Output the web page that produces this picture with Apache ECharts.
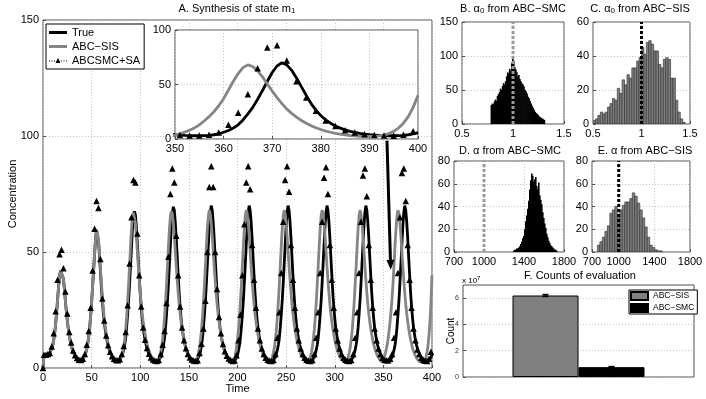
<!DOCTYPE html>
<html>
<head>
<meta charset="UTF-8">
<title></title>
<style>
	* { margin: 0; padding: 0; }
	html, body { width: 100%; height: 100%; overflow: hidden; background: #fff; }
	#chart { width: 706px; height: 399px; }
</style>
</head>
<body>
<div id="chart"></div>
<script src="https://cdn.jsdelivr.net/npm/echarts@6/dist/echarts.min.js"></script>
<script>
	// A. concentration of m1, one value per time unit, t = 0..400
	var trueConc = [
		0, 5.2, 5.5, 5.6, 5.7, 5.8, 6.0, 6.5, 7.2, 8.3, 9.8, 12, 15, 19, 24, 29.5, 35, 39.5, 42, 42.5,
		41.5, 38.5, 34, 29, 24.5, 20.5, 17, 14, 11.7, 9.8, 8.2, 7, 6, 5.2, 4.6, 4.1, 3.8, 3.6, 3.5, 3.5,
		3.6, 3.9, 4.4, 5.2, 6.5, 8.2, 10.5, 13.5, 17.5, 22.5, 28.5, 35, 42, 49, 55.5, 59.5, 59, 55, 49, 42,
		35, 29, 24, 20, 16.5, 13.7, 11.4, 9.5, 8, 6.8, 5.8, 5, 4.4, 3.9, 3.6, 3.4, 3.3, 3.3, 3.4, 3.7,
		4.2, 5, 6.2, 7.8, 10, 13, 17.5, 23, 29, 36, 44, 52, 60, 65.5, 67.5, 66, 61, 54, 46.5, 39,
		32, 26, 21.3, 17.4, 14.4, 12, 10, 8.4, 7, 6, 5.1, 4.4, 3.9, 3.6, 3.3, 3.1, 3.0, 3.0, 3.1, 3.4,
		3.9, 4.6, 6.2, 7.8, 10, 13, 17.5, 23, 29, 36.5, 44.5, 53, 61, 66.5, 69.5, 68, 63, 56, 48, 40,
		32.5, 26.5, 21.5, 17.5, 14.5, 12, 10, 8.4, 7, 6, 5.1, 4.4, 3.9, 3.6, 3.3, 3.1, 3.0, 3.0, 3.1, 3.4,
		3.9, 5.6, 7.4, 9.8, 13, 17.5, 23, 29, 36.5, 44.5, 53, 61, 67, 70, 68, 63, 56, 48, 40, 32.5,
		26.5, 21.5, 17.5, 14.5, 12, 10, 8.4, 7, 6, 5.1, 4.4, 3.9, 3.6, 3.3, 3.1, 3.0, 3.0, 3.1, 3.4, 3.9,
		5.6, 7.4, 9.8, 13, 17.5, 23, 29, 36.5, 44.5, 53, 61, 67, 70, 68, 63, 56, 48, 40, 32.5, 26.5,
		21.5, 17.5, 14.5, 12, 10, 8.4, 7, 6, 5.1, 4.4, 3.9, 3.6, 3.3, 3.1, 3.0, 3.0, 3.1, 3.4, 3.9, 4.6,
		6.2, 7.8, 10, 13, 17.5, 23, 29, 36.5, 44.5, 53, 61, 67, 70, 68, 63, 56, 48, 40, 32.5, 26.5,
		21.5, 17.5, 14.5, 12, 10, 8.4, 7, 6, 5.1, 4.4, 3.9, 3.6, 3.3, 3.1, 3.0, 3.0, 3.1, 3.4, 3.9, 4.6,
		6.2, 7.8, 10, 13, 17.5, 23, 29, 36.5, 44.5, 53, 61, 67, 70, 68, 63, 56, 48, 40, 32.5, 26.5,
		21.5, 17.5, 14.5, 12, 10, 8.4, 7, 6, 5.1, 4.4, 3.9, 3.6, 3.3, 3.1, 3.0, 3.0, 3.1, 3.4, 3.9, 4.6,
		6.2, 7.8, 10, 13, 17.5, 23, 29, 36.5, 44.5, 53, 61, 67, 70, 68, 63, 56, 48, 40, 32.5, 26.5,
		21.5, 17.5, 14.5, 12, 10, 8.4, 7, 6, 5.1, 4.4, 3.9, 3.6, 3.3, 3.1, 3.0, 3.0, 3.1, 3.4, 3.9, 4.6,
		6.2, 7.8, 10, 13, 17.5, 23, 29, 36.5, 44.5, 53, 61, 67, 70, 68, 63, 56, 48, 40, 32.5, 26.5,
		21.5, 17.5, 14.5, 12, 10, 8.4, 7, 6, 5.1, 4.4, 3.9, 3.6, 3.3, 3.1, 3.0, 3.0, 3.1, 3.4, 3.9, 4.6,
		5.8
	];
	var sisConc = [
		0, 5.2, 5.5, 5.6, 5.7, 5.8, 6.0, 6.5, 7.2, 8.3, 9.8, 12, 15, 19, 24, 29.5, 35, 39.5, 42, 42.5,
		41.5, 38.5, 34, 29, 24.5, 20.5, 17, 14, 11.7, 9.8, 8.2, 7, 6, 5.2, 4.6, 4.1, 3.8, 3.6, 3.5, 3.5,
		3.6, 3.9, 4.4, 5.2, 6.5, 8.2, 10.5, 13.5, 17.5, 22.5, 28.5, 35, 42, 49, 55.5, 59.5, 59, 55.5, 50, 43.5,
		37, 31, 26, 21.5, 18, 15, 12.5, 10.5, 8.8, 7.4, 6.2, 5.2, 4.4, 3.8, 3.3, 3.0, 2.8, 2.7, 2.8, 3.1,
		3.6, 5, 6.8, 9, 12.5, 16.5, 22, 28.5, 36, 44, 52.5, 60, 65.5, 67, 66.5, 62.5, 57, 50.5, 44, 38,
		32.5, 27.5, 23.5, 20, 17, 14.5, 12.2, 10.3, 8.7, 7.3, 6.2, 5.2, 4.4, 3.7, 3.2, 2.8, 2.5, 2.4, 2.6, 3.5,
		5, 6.8, 9, 12.5, 16.5, 22, 28.5, 36, 44, 52.5, 60, 65.5, 67.5, 66.5, 62.5, 57, 50.5, 44, 38, 32.5,
		27.5, 23.5, 20, 17, 14.5, 12.2, 10.3, 8.7, 7.3, 6.2, 5.2, 4.4, 3.7, 3.2, 2.8, 2.5, 2.4, 2.6, 3.5, 5,
		6.8, 9, 12.5, 16.5, 22, 28.5, 36, 44, 52.5, 60, 65.5, 68, 66.5, 62.5, 57, 50.5, 44, 38, 32.5, 27.5,
		23.5, 20, 17, 14.5, 12.2, 10.3, 8.7, 7.3, 6.2, 5.2, 4.4, 3.7, 3.2, 2.8, 2.5, 2.4, 2.6, 4, 6.2, 9,
		12.5, 16.5, 22, 28.5, 36, 44, 52.5, 60, 65.5, 68, 66.5, 62.5, 57, 50.5, 44, 38, 32.5, 27.5, 23.5, 20,
		17, 14.5, 12.2, 10.3, 8.7, 7.3, 6.2, 5.2, 4.4, 3.7, 3.2, 2.8, 2.5, 2.4, 2.6, 3.5, 5, 6.8, 9, 12.5,
		16.5, 22, 28.5, 36, 44, 52.5, 60, 65.5, 68, 66.5, 62.5, 57, 50.5, 44, 38, 32.5, 27.5, 23.5, 20, 17,
		14.5, 12.2, 10.3, 8.7, 7.3, 6.2, 5.2, 4.4, 3.7, 3.2, 2.8, 2.5, 2.4, 2.6, 3.5, 5, 6.8, 9, 12.5, 16.5,
		22, 28.5, 36, 44, 52.5, 60, 65.5, 68, 66.5, 62.5, 57, 50.5, 44, 38, 32.5, 27.5, 23.5, 20, 17, 14.5,
		12.2, 10.3, 8.7, 7.3, 6.2, 5.2, 4.4, 3.7, 3.2, 2.8, 2.5, 2.4, 2.6, 3.5, 5, 6.8, 9, 12.5, 16.5, 22,
		28.5, 36, 44, 52.5, 60, 65.5, 68, 66.5, 62.5, 57, 50.5, 44, 38, 32.5, 27.5, 23.5, 20, 17, 14.5, 12.2,
		10.3, 8.7, 7.3, 6.2, 5.2, 4.4, 3.7, 3.2, 2.8, 2.9, 3.6, 4.8, 6.3, 8, 10.2, 13, 16.5, 20.5, 25, 30.5,
		37, 45, 53, 60, 65.5, 68, 66.5, 62.5, 57, 50.5, 44, 38, 32.5, 27.5, 23.5, 20, 17, 14.5, 12.2, 10.3,
		8.7, 7.3, 6.2, 5.2, 4.4, 3.7, 3.2, 2.8, 2.5, 2.4, 2.4, 2.6, 2.9, 3.6, 5, 7, 10, 14.5, 20.5, 29,
		40
	];
	// ABCSMC+SA samples: t = 0, then t = 1, 3, 5, ... 399
	var smcConc = [
		0,
		5.7, 5.7, 6, 6.5, 9.3, 15, 24.5, 38, 49, 51, 43, 33, 23.5, 15.5, 11, 7.5, 5.5, 4.3, 3.6, 3.5,
		4, 6, 10, 16, 26, 42, 60, 72, 69, 47, 30, 20.5, 14, 9.8, 7, 5.1, 4, 3.4, 3.3, 3.8,
		6, 9.5, 15.5, 27, 45, 65, 81, 80, 58, 40, 26.5, 17.5, 12.2, 8.6, 6.1, 4.5, 3.7, 3.2, 3.0, 3.4,
		6, 10, 16, 28, 48, 75, 86, 80, 57, 40, 26.5, 17.5, 12, 8.5, 6, 4.5, 3.7, 3.2, 3.0, 3.3,
		6.5, 10.5, 17, 29, 50, 78, 87, 78, 50, 34, 22, 15, 10.3, 7.2, 5.3, 4.1, 3.4, 3.0, 3.2, 5.5,
		12, 23, 40, 62, 80, 87, 77, 53, 38, 26, 17, 12, 8.4, 6, 4.4, 3.6, 3.1, 3.0, 3.4, 6,
		13, 24, 41, 63, 81, 87, 76, 53, 38, 26, 17, 12, 8.4, 6, 4.4, 3.6, 3.1, 3.0, 3.4, 6,
		13, 24, 41, 63, 82, 86.5, 75, 53, 38, 26, 17, 12, 8.4, 6, 4.4, 3.6, 3.1, 3.0, 3.4, 6,
		13, 24, 41, 63, 83, 86, 74, 53, 38, 26, 17, 12, 8.4, 6, 4.4, 3.6, 3.3, 3.3, 4, 6,
		13, 24, 41, 65, 84, 86, 72, 53, 38, 26, 17, 12, 8, 6, 4.4, 3.6, 3.1, 3.0, 4, 7
	];
	var arrowFrom = [353.7, 98];
	var arrowTo = [357.4, 44.5];

	// B-E. posterior histograms (bin start, bin width, counts)
	var a0SmcStart = 0.78, a0SmcWidth = 0.01;
	var a0SmcCounts = [28, 30, 29, 33, 36, 34, 41, 44, 47, 52, 50, 56, 60, 58, 63, 70, 76, 74, 81, 78,
		90, 97, 93, 84, 80, 76, 70, 72, 66, 63, 60, 58, 55, 50, 48, 45, 40, 38, 34, 30,
		27, 24, 21, 18, 16, 15, 13, 11, 10, 9, 8, 7, 6];
	var a0SisStart = 0.5, a0SisWidth = 0.025;
	var a0SisCounts = [2, 3, 5, 7, 6, 7, 10, 12, 15, 14, 21, 18, 26, 23, 29, 27, 33, 33, 37, 39,
		45, 41, 48, 49, 47, 43, 43, 35, 33, 38, 39, 38, 27, 27, 14, 7, 3, 1];
	var aSmcStart = 1290, aSmcWidth = 10;
	var aSmcCounts = [1, 2, 2, 3, 3, 4, 5, 7, 9, 12, 14, 20, 27, 32, 38, 45, 55, 63, 69, 67,
		62, 64, 66, 58, 55, 61, 50, 46, 42, 35, 30, 25, 21, 16, 13, 10, 8, 6, 5, 4, 3, 2, 2, 1];
	var aSisStart = 760, aSisWidth = 28;
	var aSisCounts = [6, 9, 13, 18, 23, 34, 37, 40, 33, 37, 41, 44, 44, 47, 52, 49, 43, 37, 30, 22,
		13, 6, 4, 2, 1, 1];
	var trueAlpha0 = 1, trueAlpha = 1000;
	var alphaTicks = [700, 1000, 1400, 1800];

	// F. counts of evaluation
	var evalCounts = [6.2e7, 0.75e7];
	var evalErrLow = [6.13e7, 0.72e7];
	var evalErrHigh = [6.27e7, 0.79e7];
	var countTicks = [0, 2e7, 4e7, 6e7];

	var FONT = '"Liberation Sans", Arial, Helvetica, sans-serif';
	var BOX = '#505050';
	var GRAY = '#858585';

	function gridBox(left, top, width, height, z) {
		return {
			left: left, top: top, width: width, height: height, show: true, z: z || 0,
			backgroundColor: '#fff', borderColor: BOX, borderWidth: 1, outerBoundsMode: 'none'
		};
	}

	function valAxis(gi, min, max, interval, z) {
		return {
			type: 'value', gridIndex: gi, min: min, max: max, interval: interval, z: z || 0,
			nameMoveOverlap: false,
			axisLine: { show: false },
			axisTick: { show: true, inside: true, length: 3, lineStyle: { color: BOX } },
			axisLabel: { color: '#000', fontSize: 11, fontFamily: FONT, margin: 4 },
			splitLine: { show: true, lineStyle: { color: '#c4c4c4', type: [1, 2], width: 1 } }
		};
	}

	function histData(start, width, counts) {
		return counts.map(function(c, i) {
			return [start + i * width, c];
		});
	}

	function histSeries(gi, start, width, counts, fill, stroke) {
		return {
			type: 'custom', xAxisIndex: gi, yAxisIndex: gi, clip: true,
			data: histData(start, width, counts),
			renderItem: function(params, api) {
				var x0 = api.value(0), h = api.value(1);
				var p0 = api.coord([x0, 0]), p1 = api.coord([x0 + width, h]);
				// solid bars overlap a little so thin bins do not leave seams
				var pad = stroke ? 0 : 0.6;
				return {
					type: 'rect',
					shape: { x: p0[0], y: p1[1], width: p1[0] - p0[0] + pad, height: p0[1] - p1[1] },
					style: { fill: fill, stroke: stroke || null, lineWidth: stroke ? 0.6 : 0 }
				};
			}
		};
	}

	function truthLine(gi, x, top, color) {
		return {
			type: 'line', xAxisIndex: gi, yAxisIndex: gi, symbol: 'none', z: 5,
			data: [[x, 0], [x, top]],
			lineStyle: { color: color, width: 3, type: [3, 2] }
		};
	}

	function panelTitle(text, x, y) {
		return {
			text: text, left: x, top: y, textAlign: 'center', padding: 0,
			textStyle: {
				fontSize: 11, fontWeight: 'normal', color: '#000', fontFamily: FONT,
				rich: {
					n: { fontSize: 11, fontFamily: FONT, color: '#000' },
					s: { fontSize: 8, fontFamily: FONT, color: '#000', padding: [5, 0, 0, 0] }
				}
			}
		};
	}

	var timeData = function(arr) {
		return arr.map(function(v, i) { return [i, v]; });
	};
	var smcData = smcConc.map(function(v, i) {
		return [i === 0 ? 0 : 2 * i - 1, v];
	});

	function concSeries(ai, z, withArrow) {
		var s = [{
			name: 'True', type: 'line', xAxisIndex: ai, yAxisIndex: ai, z: z,
			data: timeData(trueConc), symbol: 'none',
			itemStyle: { color: '#000' }, lineStyle: { color: '#000', width: 2.8 }
		}, {
			name: 'ABC\u2212SIS', type: 'line', xAxisIndex: ai, yAxisIndex: ai, z: z + 1,
			data: timeData(sisConc), symbol: 'none',
			itemStyle: { color: GRAY }, lineStyle: { color: GRAY, width: 2.8 }
		}, {
			name: 'ABCSMC+SA', type: 'line', xAxisIndex: ai, yAxisIndex: ai, z: z + 2,
			data: smcData, symbol: 'triangle', symbolSize: 6.5, showAllSymbol: true,
			itemStyle: { color: '#000' }, lineStyle: { opacity: 0 }
		}];
		if (withArrow) {
			s[2].markLine = {
				silent: true, symbol: ['none', 'triangle'], symbolSize: [8, 10],
				label: { show: false },
				lineStyle: { color: '#000', width: 3, type: 'solid', opacity: 1 },
				data: [[{ coord: arrowFrom }, { coord: arrowTo }]]
			};
		}
		return s;
	}

	var chart = echarts.init(document.getElementById('chart'));

	var xs = [
		valAxis(0, 0, 400, 50),
		valAxis(1, 350, 400, 10, 7),
		valAxis(2, 0.5, 1.5, 0.5),
		valAxis(3, 0.5, 1.5, 0.5),
		valAxis(4, 700, 1800, 100),
		valAxis(5, 700, 1800, 100),
		{
			type: 'category', gridIndex: 6, data: [''],
			axisLine: { show: false }, axisTick: { show: false }, axisLabel: { show: false },
			splitLine: { show: false }
		}
	];
	xs[0].name = 'Time';
	xs[0].nameLocation = 'middle';
	xs[0].nameGap = 15;
	xs[0].nameTextStyle = { fontSize: 11, fontFamily: FONT, color: '#000' };
	[4, 5].forEach(function(i) {
		xs[i].axisLabel.customValues = alphaTicks;
		xs[i].axisTick.customValues = alphaTicks;
		xs[i].axisLabel.formatter = function(v) { return String(v); };
	});

	var ys = [
		valAxis(0, 0, 150, 50),
		valAxis(1, 0, 100, 50, 7),
		valAxis(2, 0, 150, 50),
		valAxis(3, 0, 60, 20),
		valAxis(4, 0, 80, 20),
		valAxis(5, 0, 80, 20),
		valAxis(6, 0, 7e7, 1e7)
	];
	ys[0].name = 'Concentration';
	ys[0].nameLocation = 'middle';
	ys[0].nameGap = 25;
	ys[0].nameTextStyle = { fontSize: 11, fontFamily: FONT, color: '#000' };
	ys[6].name = 'Count';
	ys[6].nameLocation = 'middle';
	ys[6].nameGap = 7;
	ys[6].nameTextStyle = { fontSize: 10, fontFamily: FONT, color: '#000' };
	ys[6].axisLabel.fontSize = 7;
	ys[6].axisLabel.color = '#333';
	ys[6].axisLabel.customValues = countTicks;
	ys[6].axisTick.customValues = countTicks;
	ys[6].axisLabel.formatter = function(v) { return String(v / 1e7); };

	var series = []
		.concat(concSeries(0, 2, true))
		.concat(concSeries(1, 8, false))
		.concat([
			histSeries(2, a0SmcStart, a0SmcWidth, a0SmcCounts, '#000'),
			truthLine(2, trueAlpha0, 150, '#9a9a9a'),
			histSeries(3, a0SisStart, a0SisWidth, a0SisCounts, '#808080', '#2a2a2a'),
			truthLine(3, trueAlpha0, 60, '#000'),
			histSeries(4, aSmcStart, aSmcWidth, aSmcCounts, '#000'),
			truthLine(4, trueAlpha, 80, '#9a9a9a'),
			histSeries(5, aSisStart, aSisWidth, aSisCounts, '#808080', '#2a2a2a'),
			truthLine(5, trueAlpha, 80, '#000'),
			{
				name: 'F:ABC\u2212SIS', type: 'bar', xAxisIndex: 6, yAxisIndex: 6,
				data: [evalCounts[0]], barWidth: 66, barGap: '0%',
				itemStyle: { color: '#808080', borderColor: '#000', borderWidth: 1 }
			},
			{
				name: 'F:ABC\u2212SMC', type: 'bar', xAxisIndex: 6, yAxisIndex: 6,
				data: [evalCounts[1]], barWidth: 66, barGap: '0%',
				itemStyle: { color: '#000', borderColor: '#000', borderWidth: 1 }
			},
			{
				type: 'custom', xAxisIndex: 6, yAxisIndex: 6, z: 5,
				data: evalErrLow.map(function(lo, i) { return [0, lo, evalErrHigh[i]]; }),
				renderItem: function(params, api) {
					var lo = api.coord([api.value(0), api.value(1)]);
					var hi = api.coord([api.value(0), api.value(2)]);
					var x = lo[0] + (params.dataIndex - 0.5) * 66;
					var st = { stroke: '#000', lineWidth: 1.6 };
					return {
						type: 'group', children: [
							{ type: 'line', shape: { x1: x, y1: lo[1], x2: x, y2: hi[1] }, style: st },
							{ type: 'line', shape: { x1: x - 3, y1: lo[1], x2: x + 3, y2: lo[1] }, style: st },
							{ type: 'line', shape: { x1: x - 3, y1: hi[1], x2: x + 3, y2: hi[1] }, style: st }
						]
					};
				}
			}
		]);

	var option = {
		animation: false,
		backgroundColor: '#fff',
		textStyle: { fontFamily: FONT },
		title: [
			panelTitle('{n|A. Synthesis of state m}{s|1}', 237, 2),
			panelTitle('{n|B. \u03b1}{s|0}{n| from ABC\u2212SMC}', 513, 2),
			panelTitle('{n|C. \u03b1}{s|0}{n| from ABC\u2212SIS}', 640, 2),
			panelTitle('D. \u03b1 from ABC\u2212SMC', 510, 145),
			panelTitle('E. \u03b1 from ABC\u2212SIS', 645, 145),
			panelTitle('F. Counts of evaluation', 580, 270)
		],
		legend: [{
			left: 46, top: 24, orient: 'vertical', selectedMode: false,
			itemWidth: 18, itemHeight: 12, itemGap: 3, padding: [3, 4, 3, 3],
			borderColor: '#000', borderWidth: 1, backgroundColor: '#fff',
			textStyle: { fontSize: 11, fontFamily: FONT, color: '#000' },
			data: [
				{ name: 'True', icon: 'path://M0,0h18v3h-18z' },
				{ name: 'ABC\u2212SIS', icon: 'path://M0,0h18v3h-18z' },
				{ name: 'ABCSMC+SA', icon: 'path://M0,6.5h1v1h-1z M2.5,6.5h1v1h-1z M5,6.5h1v1h-1z M12,6.5h1v1h-1z M14.5,6.5h1v1h-1z M17,6.5h1v1h-1z M6.5,9L9,4L11.5,9z' }
			]
		}, {
			left: 629, top: 290, orient: 'vertical', selectedMode: false,
			itemWidth: 17, itemHeight: 8, itemGap: 2, padding: [1, 3, 1, 1],
			borderColor: '#000', borderWidth: 1, backgroundColor: '#fff', icon: 'rect',
			textStyle: { fontSize: 8.5, fontFamily: FONT, color: '#000' },
			formatter: function(name) { return name.replace('F:', ''); },
			data: ['F:ABC\u2212SIS', 'F:ABC\u2212SMC']
		}],
		grid: [
			gridBox(43, 20, 389, 348),
			gridBox(175, 30, 243, 109, 6),
			gridBox(462, 22, 102, 102),
			gridBox(593, 22, 97, 102),
			gridBox(454, 161, 110, 91),
			gridBox(592, 161, 98, 91),
			gridBox(463, 285, 231, 92)
		],
		xAxis: xs,
		yAxis: ys,
		graphic: [{
			type: 'text', left: 462, top: 275, z: 10,
			style: {
				text: '{a|x 10}{b|7}', fill: '#000',
				rich: {
					a: { fontSize: 8, fontFamily: FONT, fill: '#000' },
					b: { fontSize: 6, fontFamily: FONT, fill: '#000', padding: [0, 0, 5, 0] }
				}
			}
		}],
		series: series
	};

	chart.setOption(option);
</script>
</body>
</html>
